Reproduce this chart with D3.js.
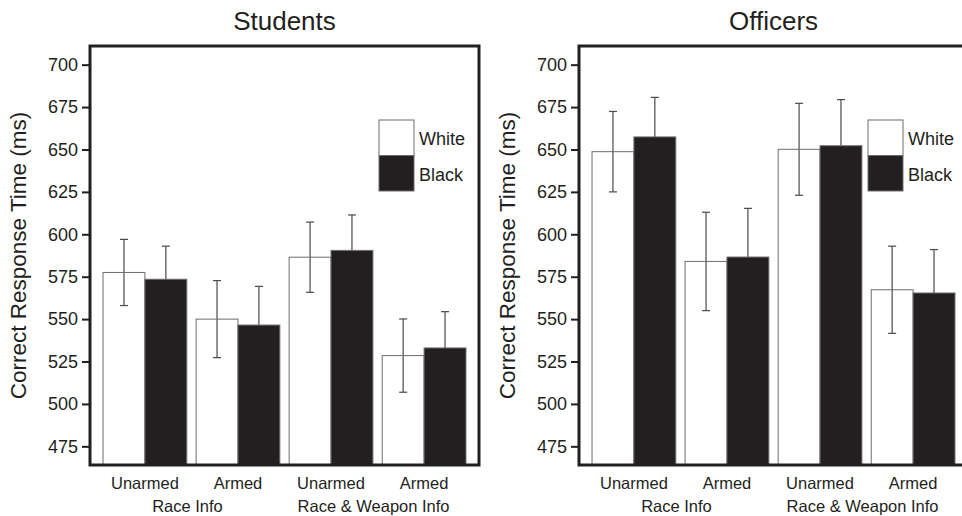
<!DOCTYPE html>
<html>
<head>
<meta charset="utf-8">
<script src="https://cdn.jsdelivr.net/npm/d3@7"></script>
<style>
  body { margin: 0; background: #fff; }
  svg { display: block; font-family: "Liberation Sans", Arial, sans-serif; }
</style>
</head>
<body>
<script>
// data
const conditions = ["Unarmed", "Armed", "Unarmed", "Armed"];
const infoGroups = ["Race Info", "Race & Weapon Info"];
const races = ["White", "Black"];
const yTicks = [475, 500, 525, 550, 575, 600, 625, 650, 675, 700];

const studentsWhite = [577.5, 550, 586.5, 528.5];
const studentsBlack = [573.5, 546.5, 590.5, 533];
const studentsWhiteErr = [19.5, 22.7, 20.7, 21.6];
const studentsBlackErr = [19.5, 22.8, 20.9, 21.4];

const officersWhite = [648.7, 584, 650.1, 567.3];
const officersBlack = [657.4, 586.6, 652.2, 565.4];
const officersWhiteErr = [23.7, 29, 27.1, 25.7];
const officersBlackErr = [23.3, 28.7, 27.2, 25.6];

const width = 962;
const height = 516;
const ink = "#231f20";

const svg = d3.select("body")
    .append("svg")
    .attr("width", width)
    .attr("height", height);

const y = d3.scaleLinear()
    .domain([464, 711])
    .range([465, 46]);

function drawPanel(x0, title, white, black, whiteErr, blackErr) {
    const x1 = x0 + 389;
    const g = svg.append("g");

    const x = d3.scaleBand()
        .domain(d3.range(conditions.length))
        .range([x0, x1])
        .paddingInner(0.1)
        .paddingOuter(0.14);

    const xs = d3.scaleBand()
        .domain(races)
        .range([0, x.bandwidth()]);

    const rows = conditions.map((c, i) => [
        { i: i, race: "White", v: white[i], e: whiteErr[i] },
        { i: i, race: "Black", v: black[i], e: blackErr[i] }
    ]).flat();

    // error bars first, black bars cover their lower half
    const err = g.selectAll("g.err")
        .data(rows)
        .enter()
        .append("g")
        .attr("class", "err")
        .attr("transform", d => "translate(" + (x(d.i) + xs(d.race) + xs.bandwidth() / 2) + ",0)")
        .attr("stroke", "#4a4a4a")
        .attr("stroke-width", 1.2);

    err.append("line")
        .attr("y1", d => y(d.v + d.e))
        .attr("y2", d => y(d.v - d.e));
    err.append("line")
        .attr("x1", -4).attr("x2", 4)
        .attr("y1", d => y(d.v + d.e))
        .attr("y2", d => y(d.v + d.e));
    err.append("line")
        .attr("x1", -4).attr("x2", 4)
        .attr("y1", d => y(d.v - d.e))
        .attr("y2", d => y(d.v - d.e));

    g.selectAll("rect.bar")
        .data(rows)
        .enter()
        .append("rect")
        .attr("class", "bar")
        .attr("x", d => x(d.i) + xs(d.race))
        .attr("y", d => y(d.v))
        .attr("width", xs.bandwidth())
        .attr("height", d => y(464) - y(d.v))
        .attr("fill", d => d.race === "White" ? "none" : ink)
        .attr("stroke", "#6d6d6d")
        .attr("stroke-width", 1);

    // frame
    g.append("rect")
        .attr("x", x0)
        .attr("y", y.range()[1])
        .attr("width", x1 - x0)
        .attr("height", y.range()[0] - y.range()[1])
        .attr("fill", "none")
        .attr("stroke", ink)
        .attr("stroke-width", 3);

    // y axis
    const yAxis = g.append("g")
        .attr("transform", "translate(" + (x0 - 1) + ",0)")
        .call(d3.axisLeft(y).tickValues(yTicks).tickSize(7).tickPadding(4));
    yAxis.select(".domain").remove();
    yAxis.selectAll(".tick line").attr("stroke", ink).attr("stroke-width", 2);
    yAxis.selectAll(".tick text")
        .attr("fill", ink)
        .style("font-size", "18px")
        .style("font-family", "'Liberation Sans', Arial, sans-serif");

    // y label
    g.append("text")
        .attr("transform", "translate(" + (x0 - 64) + "," + (y.range()[0] + y.range()[1]) / 2 + ") rotate(-90)")
        .attr("text-anchor", "middle")
        .attr("fill", ink)
        .style("font-size", "22.5px")
        .text("Correct Response Time (ms)");

    // x labels
    g.selectAll("text.cond")
        .data(conditions)
        .enter()
        .append("text")
        .attr("class", "cond")
        .attr("x", (d, i) => x(i) + x.bandwidth() / 2)
        .attr("y", 489)
        .attr("text-anchor", "middle")
        .attr("fill", ink)
        .style("font-size", "16.5px")
        .text(d => d);

    g.selectAll("text.info")
        .data(infoGroups)
        .enter()
        .append("text")
        .attr("class", "info")
        .attr("x", (d, i) => (x(i * 2) + x(i * 2 + 1) + x.bandwidth()) / 2 - 4)
        .attr("y", 512)
        .attr("text-anchor", "middle")
        .attr("fill", ink)
        .style("font-size", "16.5px")
        .text(d => d);

    // title
    g.append("text")
        .attr("x", (x0 + x1) / 2)
        .attr("y", 30)
        .attr("text-anchor", "middle")
        .attr("fill", ink)
        .style("font-size", "26px")
        .text(title);

    // legend
    const legend = g.selectAll("g.legend")
        .data(races)
        .enter()
        .append("g")
        .attr("class", "legend")
        .attr("transform", (d, i) => "translate(" + (x0 + 289) + "," + (120 + i * 35.5) + ")");

    legend.append("rect")
        .attr("width", 35)
        .attr("height", 35.5)
        .attr("fill", d => d === "White" ? "#fff" : ink)
        .attr("stroke", "#6d6d6d")
        .attr("stroke-width", 1);

    legend.append("text")
        .attr("x", 40)
        .attr("y", 25)
        .attr("fill", ink)
        .style("font-size", "18px")
        .text(d => d);
}

drawPanel(90, "Students", studentsWhite, studentsBlack, studentsWhiteErr, studentsBlackErr);
drawPanel(579, "Officers", officersWhite, officersBlack, officersWhiteErr, officersBlackErr);
</script>
</body>
</html>
